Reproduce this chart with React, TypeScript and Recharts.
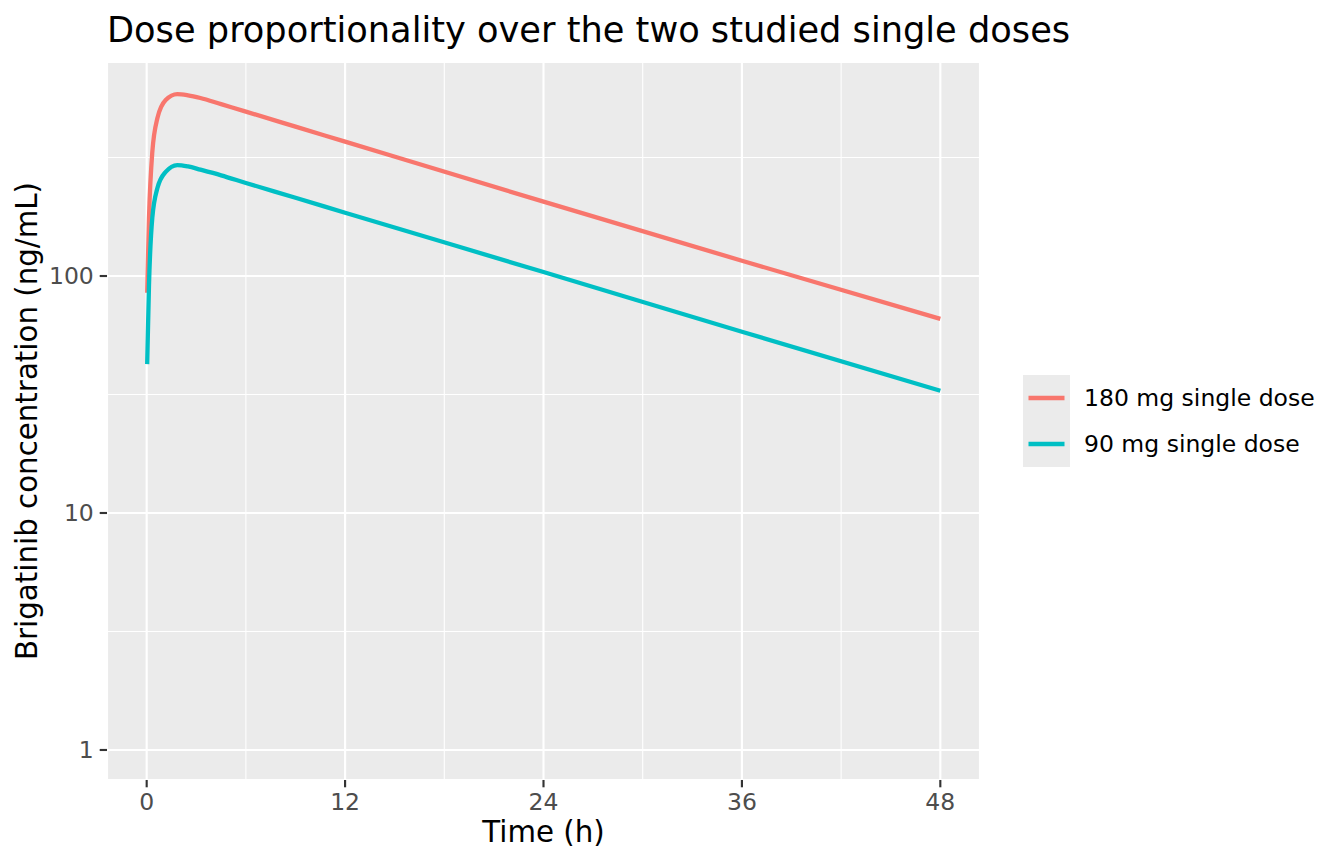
import React from "react";
import {
  LineChart,
  Line,
  XAxis,
  YAxis,
  CartesianGrid,
  ReferenceLine,
  Label,
} from "recharts";

// time after dose (h)
const times = [0.03, 0.14, 0.34, 0.65, 1.15, 1.85, 2.5, 3.25, 4.5, 6, 9, 12, 24, 36, 48];
// concentrations (ng/mL)
const conc180 = [85, 176, 333, 464, 553, 586, 579, 564, 531, 494, 427, 369, 206, 116, 65.9];
const conc90 = [42.5, 91.6, 176, 235, 275, 294, 290, 281, 266, 247, 214, 185, 104, 58.2, 32.8];

const seriesNames = ["180 mg single dose", "90 mg single dose"];
const seriesColors = ["#F8766D", "#00BFC4"];

const xTicks = [0, 12, 24, 36, 48];
const xMinor = [6, 18, 30, 42];
const yTicks = [1, 10, 100];
const yMinor = [3.162, 31.62, 316.2];

const data = times.map((t, i) => ({ t, c180: conc180[i], c90: conc90[i] }));

const FONT = "DejaVu Sans";
const tickStyle = { fill: "#4D4D4D", fontSize: 23.5, fontFamily: FONT };
const tickLine = { stroke: "#333333", strokeWidth: 2.13 };

export default function App() {
  return (
    <div style={{ position: "absolute", left: 0, top: 0, width: 1344, height: 864, background: "#fff" }}>
      <LineChart
        width={1344}
        height={864}
        data={data}
        margin={{ top: 62, right: 364, bottom: 34, left: 27 }}
      >
        <CartesianGrid stroke="#FFFFFF" strokeWidth={2.13} fill="#EBEBEB" />
        {xMinor.map((v) => (
          <ReferenceLine key={"x" + v} x={v} stroke="#FFFFFF" strokeWidth={1.07} />
        ))}
        {yMinor.map((v) => (
          <ReferenceLine key={"y" + v} y={v} stroke="#FFFFFF" strokeWidth={1.07} />
        ))}
        <XAxis
          dataKey="t"
          type="number"
          domain={[-2.4, 50.4]}
          ticks={xTicks}
          allowDataOverflow
          height={50}
          axisLine={false}
          tickLine={tickLine}
          tickSize={7.3}
          tickMargin={5.9}
          tick={tickStyle}
        >
          <Label
            content={({ viewBox }: any) => (
              <text
                x={viewBox.x + viewBox.width / 2}
                y={viewBox.y + 62}
                textAnchor="middle"
                fontSize={29.3}
                fontFamily={FONT}
                fill="#000"
              >
                Time (h)
              </text>
            )}
          />
        </XAxis>
        <YAxis
          scale="log"
          type="number"
          domain={[0.747, 800]}
          ticks={yTicks}
          allowDataOverflow
          width={80}
          axisLine={false}
          tickLine={tickLine}
          tickSize={7.3}
          tickMargin={5.9}
          tick={tickStyle}
          tickFormatter={(v: number) => String(v)}
        >
          <Label
            content={({ viewBox }: any) => {
              const cx = 37;
              const cy = viewBox.y + viewBox.height / 2;
              return (
                <text
                  x={cx}
                  y={cy}
                  transform={`rotate(-90 ${cx} ${cy})`}
                  textAnchor="middle"
                  fontSize={29.3}
                  fontFamily={FONT}
                  fill="#000"
                >
                  Brigatinib concentration (ng/mL)
                </text>
              );
            }}
          />
        </YAxis>
        <Line
          type="monotone"
          dataKey="c180"
          name={seriesNames[0]}
          stroke={seriesColors[0]}
          strokeWidth={4.3}
          dot={false}
          isAnimationActive={false}
        />
        <Line
          type="monotone"
          dataKey="c90"
          name={seriesNames[1]}
          stroke={seriesColors[1]}
          strokeWidth={4.3}
          dot={false}
          isAnimationActive={false}
        />
      </LineChart>
      <svg
        width={1344}
        height={864}
        style={{ position: "absolute", left: 0, top: 0, pointerEvents: "none" }}
      >
        <text x={107} y={42} fontSize={35.2} fontFamily={FONT} fill="#000">
          Dose proportionality over the two studied single doses
        </text>
        <rect x={1023} y={375} width={47} height={92} fill="#EBEBEB" />
        {seriesNames.map((name, i) => (
          <g key={name}>
            <line
              x1={1028.5}
              x2={1064.5}
              y1={398 + i * 46}
              y2={398 + i * 46}
              stroke={seriesColors[i]}
              strokeWidth={4.3}
            />
            <text
              x={1084}
              y={398 + i * 46}
              dy="0.355em"
              fontSize={23.5}
              fontFamily={FONT}
              fill="#000"
            >
              {name}
            </text>
          </g>
        ))}
      </svg>
    </div>
  );
}
